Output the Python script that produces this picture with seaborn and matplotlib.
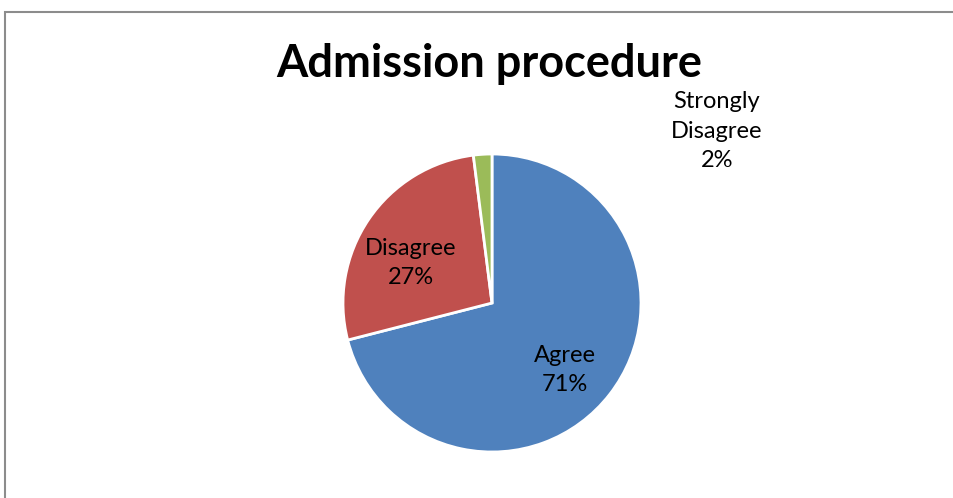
import matplotlib.pyplot as plt
import seaborn as sns
from matplotlib.patches import Rectangle

# Data
categories = ['Agree', 'Disagree', 'Strongly\nDisagree']
shares = [71, 27, 2]
colors = ['#4F81BD', '#C0504D', '#9BBB59']

sns.set_theme(style='white')
plt.rcParams['font.family'] = ['Lato', 'DejaVu Sans']

W, H = 954, 498
fig = plt.figure(figsize=(W / 100, H / 100), dpi=100)

# chart frame (cropped on the right and bottom)
fig.patches.append(Rectangle((5 / W, -0.1), 1.2, (H - 12) / H + 0.1,
                             transform=fig.transFigure, fill=False,
                             edgecolor='#8c8c8c', linewidth=1.5))

# pie axes: centre at (492, 303) px, radius 149 px
cx, cy, r = 492, 303, 149
ax = fig.add_axes([(cx - r) / W, (H - cy - r) / H, 2 * r / W, 2 * r / H])

labels = [f'{c}\n{s}%' for c, s in zip(categories, shares)]
wedges, texts = ax.pie(shares, colors=colors, startangle=90, counterclock=False,
                       labels=labels, labeldistance=0.64,
                       wedgeprops=dict(edgecolor='white', linewidth=2),
                       textprops=dict(fontsize=17, color='black', ha='center', va='center',
                                      linespacing=1.5))
ax.set_xlim(-1, 1)
ax.set_ylim(-1, 1)
ax.set_aspect('equal')

# label placement as in the original chart (pixel positions of label centres)
label_px = [(565, 370), (411, 263), (717, 131)]
for t, (px, py) in zip(texts, label_px):
    t.set_position(((px - cx) / r, (cy - py) / r))
    t.set_clip_on(False)

fig.text(489 / W, 1 - 64 / H, 'Admission procedure', ha='center', va='center',
         fontsize=32.5, fontweight='bold', color='black')

fig.savefig('out.png', dpi=100, facecolor='white')
